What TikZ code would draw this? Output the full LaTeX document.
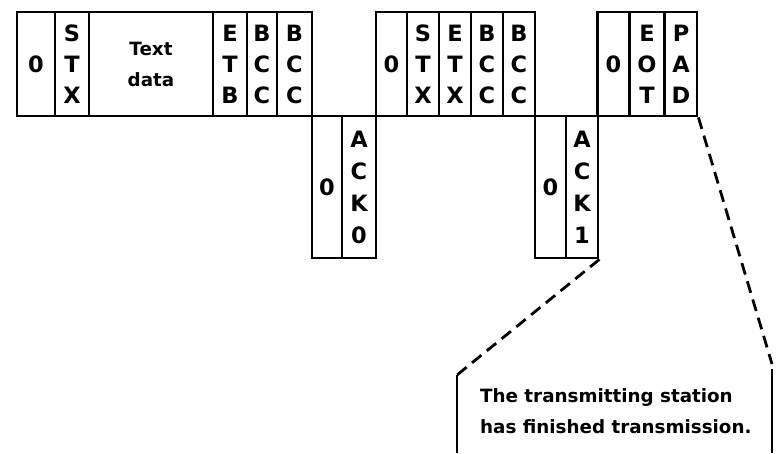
\documentclass[tikz,border=0pt]{standalone}
\usepackage{fontspec}
\setmainfont{DejaVu Sans}
\begin{document}
\begin{tikzpicture}[x=1pt,y=-1pt,
  cell/.style={draw, line width=2.8pt, inner sep=0pt, align=center,
    minimum height=104pt, font=\fontsize{22.5}{31}\selectfont\bfseries},
  ackcell/.style={cell, minimum height=142pt, font=\fontsize{22.5}{32}\selectfont\bfseries},
  txt/.style={font=\fontsize{18.3}{31}\selectfont\bfseries},
  leader/.style={line width=2.8pt, dash pattern=on 12pt off 7pt},
  edge/.style={line width=2.8pt}]
\useasboundingbox (0,0) rectangle (779,453);
% frame 1
\node[cell, minimum width=38pt] (f1a) at (36,64) {0};
\node[cell, minimum width=34pt] (f1b) at (72,64) {S\\T\\X};
\node[cell, minimum width=124pt, txt] (f1c) at (151,64) {Text\\data};
\node[cell, minimum width=34pt] (f1d) at (230,64) {E\\T\\B};
\node[cell, minimum width=30pt] (f1e) at (262,64) {B\\C\\C};
\node[cell, minimum width=35pt] (f1f) at (294.5,64) {B\\C\\C};
% ack 0
\node[ackcell, minimum width=30pt] (a0a) at (327,187) {0};
\node[ackcell, minimum width=34pt] (a0b) at (359,187) {A\\C\\K\\0};
% frame 2
\node[cell, minimum width=31pt] (f2a) at (391.5,64) {0};
\node[cell, minimum width=32pt] (f2b) at (423,64) {S\\T\\X};
\node[cell, minimum width=32pt] (f2c) at (455,64) {E\\T\\X};
\node[cell, minimum width=32pt] (f2d) at (487,64) {B\\C\\C};
\node[cell, minimum width=32pt] (f2e) at (519,64) {B\\C\\C};
% ack 1
\node[ackcell, minimum width=31pt] (a1a) at (550.5,187) {0};
\node[ackcell, minimum width=32pt] (a1b) at (582,187) {A\\C\\K\\1};
% frame 3
\node[cell, minimum width=32pt] (f3a) at (613.5,64) {0};
\node[cell, minimum width=35pt] (f3b) at (647,64) {E\\O\\T};
\node[cell, minimum width=32pt] (f3c) at (681,64) {P\\A\\D};
% note (base anchor = baseline of last line)
\node[txt, anchor=base west, align=left, inner sep=0pt] (note) at (480,433)
  {The transmitting station\\has finished transmission.};
\coordinate (lbend) at (457,375);
\coordinate (lbot) at (457,453);
\coordinate (rbend) at (772,364);
\coordinate (rtop) at (772,369);
\coordinate (rbot) at (772,453);
\draw[leader] (a1b.south east) -- (lbend);
\draw[edge] (lbend) -- (lbot);
\draw[leader] (f3c.south east) -- (rbend);
\draw[edge] (rtop) -- (rbot);
\end{tikzpicture}
\end{document}
